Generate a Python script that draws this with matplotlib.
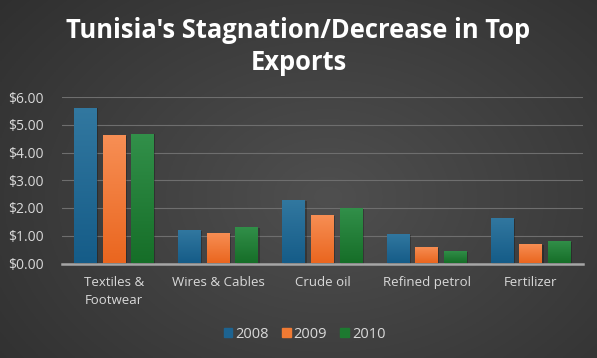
import numpy as np
import matplotlib
matplotlib.use('Agg')
import matplotlib.pyplot as plt

categories = ['Textiles &\nFootwear', 'Wires & Cables', 'Crude oil', 'Refined petrol', 'Fertilizer']
years = ['2008', '2009', '2010']
vals_2008 = [5.62, 1.20, 2.29, 1.06, 1.65]
vals_2009 = [4.64, 1.11, 1.74, 0.60, 0.69]
vals_2010 = [4.68, 1.32, 2.01, 0.44, 0.82]
y_ticks = [0, 1, 2, 3, 4, 5, 6]

top_colors = ['#3278a0', '#f78f55', '#32904a']
bot_colors = ['#155c88', '#ea661f', '#166e28']
legend_colors = ['#1d6390', '#f07a33', '#1d7a30']

plt.rcParams['font.family'] = ['Open Sans', 'DejaVu Sans']

fig = plt.figure(figsize=(5.97, 3.58), dpi=100)

# background gradient
bg = fig.add_axes([0, 0, 1, 1])
yy, xx = np.mgrid[0:1:200j, 0:1:300j]
d = np.sqrt(((xx - 0.55) / 0.75) ** 2 + ((yy - 0.55) / 0.9) ** 2)
shade = 0.31 - 0.13 * np.clip(d, 0, 1)
bg.imshow(np.dstack([shade, shade, shade]), extent=[0, 1, 0, 1], aspect='auto')
bg.axis('off')

ax = fig.add_axes([62 / 597, 1 - 263.5 / 358, 521 / 597, 166.5 / 358])
ax.set_facecolor('none')

x = np.arange(len(categories))
w = 0.22
step = 0.275
series = [vals_2008, vals_2009, vals_2010]
grad = np.linspace(0, 1, 100).reshape(-1, 1)
for i, vals in enumerate(series):
    bars = ax.bar(x + (i - 1) * step, vals, w, color='none', zorder=3)
    c0 = np.array(matplotlib.colors.to_rgb(top_colors[i]))
    c1 = np.array(matplotlib.colors.to_rgb(bot_colors[i]))
    img = c1[None, None, :] * (1 - grad[:, :, None]) + c0[None, None, :] * grad[:, :, None]
    for b in bars:
        bx, by = b.get_x(), b.get_y()
        bw, bh = b.get_width(), b.get_height()
        # soft shadow
        ax.add_patch(plt.Rectangle((bx + 0.012, by), bw, bh - 0.03, color='black', alpha=0.25, zorder=2, lw=0))
        im = ax.imshow(img, extent=[bx, bx + bw, by, by + bh], origin='lower', aspect='auto', zorder=3)
        im.set_clip_path(b)

ax.set_xlim(-0.5, len(categories) - 0.5)
ax.set_ylim(0, 6)
ax.set_yticks(y_ticks)
ax.set_yticklabels([f'${v:.2f}' for v in y_ticks], color='#d9d9d9', fontsize=10)
ax.set_xticks(x)
ax.set_xticklabels(categories, color='#d9d9d9', fontsize=9.5, linespacing=1.5)
ax.tick_params(length=0)
ax.tick_params(axis='y', pad=13)
ax.tick_params(axis='x', pad=9)
for s in ['top', 'right', 'left']:
    ax.spines[s].set_visible(False)
ax.spines['bottom'].set_color('#a6a6a6')
ax.spines['bottom'].set_linewidth(1.8)
ax.spines['bottom'].set_zorder(4)
ax.grid(axis='y', color='#6e6e6e', linewidth=0.8, zorder=0)
ax.set_axisbelow(True)

fig.text(0.5, 1 - 31 / 358, "Tunisia's Stagnation/Decrease in Top", ha='center', va='center',
         color='white', fontsize=18.4, fontweight='bold')
fig.text(0.5, 1 - 62 / 358, 'Exports', ha='center', va='center',
         color='white', fontsize=18.4, fontweight='bold')

handles = [plt.Rectangle((0, 0), 1, 1, color=c) for c in legend_colors]
fig.legend(handles, years, loc='center', bbox_to_anchor=(0.51, 1 - 334 / 358), ncol=3,
           frameon=False, fontsize=10.5, labelcolor='#d9d9d9', handlelength=0.6, handleheight=0.6,
           handletextpad=0.2, columnspacing=0.9)

fig.savefig('out.png', dpi=100)
